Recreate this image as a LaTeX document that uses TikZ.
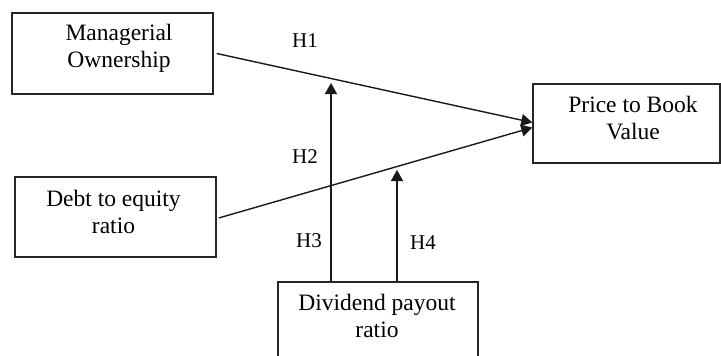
\documentclass[tikz,border=0pt]{standalone}
\usepackage{fontspec}
\setmainfont{Liberation Serif}
\usetikzlibrary{arrows.meta,calc}
\begin{document}
\begin{tikzpicture}[x=1pt,y=-1pt,
  box/.style={draw=black!85,line width=1.4pt,minimum width=#1,inner sep=0pt},
  txt/.style={align=center,font=\fontsize{23.5}{27}\selectfont,inner sep=0pt},
  hlab/.style={font=\fontsize{21}{24}\selectfont,inner sep=0pt},
  conn/.style={line width=1.4pt,draw=black!90},
  arr/.style={conn,-{Triangle[length=11pt,width=12pt]}}]
\useasboundingbox (0,0) rectangle (721,356);
% boxes
\node[box=201pt,minimum height=81pt] (mo) at (112.5,53.5) {};
\node[box=187pt,minimum height=79pt] (pbv) at (626.5,123.5) {};
\node[box=201pt,minimum height=80pt] (der) at (115.5,217) {};
\node[box=200pt,minimum height=80pt] (dpr) at (378,322) {};
% texts
\node[txt] (mot) at (119,48) {Managerial\\Ownership};
\node[txt] (pbvt) at (633,118) {Price to Book\\Value};
\node[txt] (dert) at (113.5,212) {Debt to equity\\ratio};
\node[txt] (dprt) at (377,316) {Dividend payout\\ratio};
% connectors
\coordinate (p1) at ($(pbv.west)+(0,-1)$);
\coordinate (p2) at ($(pbv.west)+(0,4)$);
\draw[arr] ($(mo.east)+(3,0)$) -- (p1);
\draw[arr] ($(der.east)+(2,1)$) -- (p2);
\coordinate (t3) at (331,83);
\coordinate (t4) at (397,170);
\draw[arr] (dpr.north -| t3) -- (t3);
\draw[arr] (dpr.north -| t4) -- (t4);
% labels
\node[hlab] (h1) at (305,41) {H1};
\node[hlab] (h2) at (305,157) {H2};
\node[hlab] (h3) at (309,241) {H3};
\node[hlab] (h4) at (423,243) {H4};
\end{tikzpicture}
\end{document}
